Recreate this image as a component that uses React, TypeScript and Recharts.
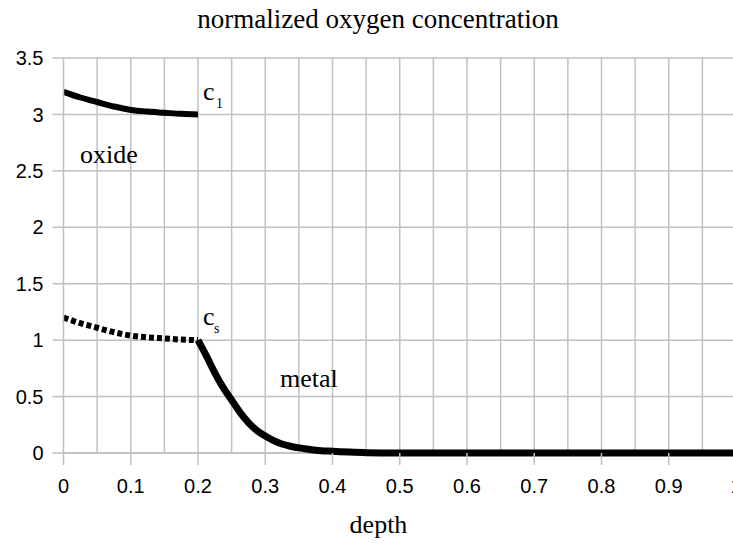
import React from 'react';
import { LineChart, Line, XAxis, YAxis, CartesianGrid, ReferenceLine } from 'recharts';

// oxide layer, upper branch (c1 side)
const oxideX = [0, 0.025, 0.05, 0.075, 0.1, 0.125, 0.15, 0.175, 0.2];
const oxideY = [3.2, 3.15, 3.11, 3.07, 3.04, 3.025, 3.015, 3.005, 3.0];
// oxide layer, lower dotted branch (cs side)
const surfaceY = [1.2, 1.15, 1.11, 1.07, 1.04, 1.025, 1.015, 1.005, 1.0];
// metal
const metalX = [0.2, 0.2125, 0.225, 0.2375, 0.25, 0.2625, 0.275, 0.2875, 0.3, 0.3125, 0.325, 0.3375, 0.35, 0.3625, 0.375, 0.4, 0.425, 0.45, 0.5, 0.6, 0.7, 0.8, 0.9, 1.0];
const metalY = [1.0, 0.86, 0.71, 0.58, 0.47, 0.36, 0.27, 0.2, 0.15, 0.11, 0.08, 0.06, 0.045, 0.035, 0.025, 0.015, 0.008, 0.003, 0, 0, 0, 0, 0, 0];

const xTicks = [0, 0.1, 0.2, 0.3, 0.4, 0.5, 0.6, 0.7, 0.8, 0.9, 1];
const yTicks = [0, 0.5, 1, 1.5, 2, 2.5, 3, 3.5];
const gridX = [0.05, 0.1, 0.15, 0.2, 0.25, 0.3, 0.35, 0.4, 0.45, 0.5, 0.55, 0.6, 0.65, 0.7, 0.75, 0.8, 0.85, 0.9, 0.95];

const oxide = oxideX.map((x, i) => ({ x, y: oxideY[i] }));
const surface = oxideX.map((x, i) => ({ x, y: surfaceY[i] }));
const metal = metalX.map((x, i) => ({ x, y: metalY[i] }));

const gridColor = '#c0c0c0';
const serif = '"Liberation Serif", "Times New Roman", serif';
const sans = '"Liberation Sans", Arial, sans-serif';

export default function App() {
  return (
    <div style={{ position: 'absolute', left: 0, top: 0, width: 733, height: 543, overflow: 'hidden', background: '#fff' }}>
      <LineChart width={760} height={543} margin={{ top: 58, right: 24, left: 0, bottom: 50 }}>
        <CartesianGrid vertical={false} stroke={gridColor} strokeWidth={1.5} />
        {gridX.map((g) => (
          <ReferenceLine key={g} x={g} stroke={gridColor} strokeWidth={1.5} />
        ))}
        <ReferenceLine y={0} stroke={gridColor} strokeWidth={1.5} />
        <XAxis
          type="number"
          dataKey="x"
          domain={[0, 1]}
          ticks={xTicks}
          allowDuplicatedCategory={false}
          height={40}
          axisLine={false}
          tickSize={12}
          tickMargin={14}
          stroke={gridColor}
          strokeWidth={1.5}
          tick={{ fontSize: 20, fontFamily: sans, fill: '#000' }}
        />
        <YAxis
          type="number"
          domain={[0, 3.5]}
          ticks={yTicks}
          width={63.5}
          tickSize={11}
          tickMargin={9}
          stroke={gridColor}
          strokeWidth={1.5}
          tick={{ fontSize: 20, fontFamily: sans, fill: '#000' }}
        />
        <Line data={oxide} dataKey="y" type="monotone" stroke="#000" strokeWidth={6} dot={false} isAnimationActive={false} />
        <Line data={surface} dataKey="y" type="monotone" stroke="#000" strokeWidth={6} strokeDasharray="5 3" dot={false} isAnimationActive={false} />
        <Line data={metal} dataKey="y" type="monotone" stroke="#000" strokeWidth={7} dot={false} isAnimationActive={false} />
      </LineChart>
      <svg width={733} height={543} style={{ position: 'absolute', left: 0, top: 0, pointerEvents: 'none' }}>
        <g fontFamily={serif} fill="#000">
          <text x={378} y={28} fontSize={27} textAnchor="middle">normalized oxygen concentration</text>
          <text x={378.5} y={533} fontSize={26} textAnchor="middle">depth</text>
          <text x={80} y={163} fontSize={26}>oxide</text>
          <text x={280} y={387} fontSize={26}>metal</text>
          <text x={203} y={100} fontSize={26}>c</text>
          <text x={216} y={108} fontSize={14}>1</text>
          <text x={203} y={325} fontSize={26}>c</text>
          <text x={214} y={333} fontSize={14}>s</text>
        </g>
      </svg>
    </div>
  );
}
